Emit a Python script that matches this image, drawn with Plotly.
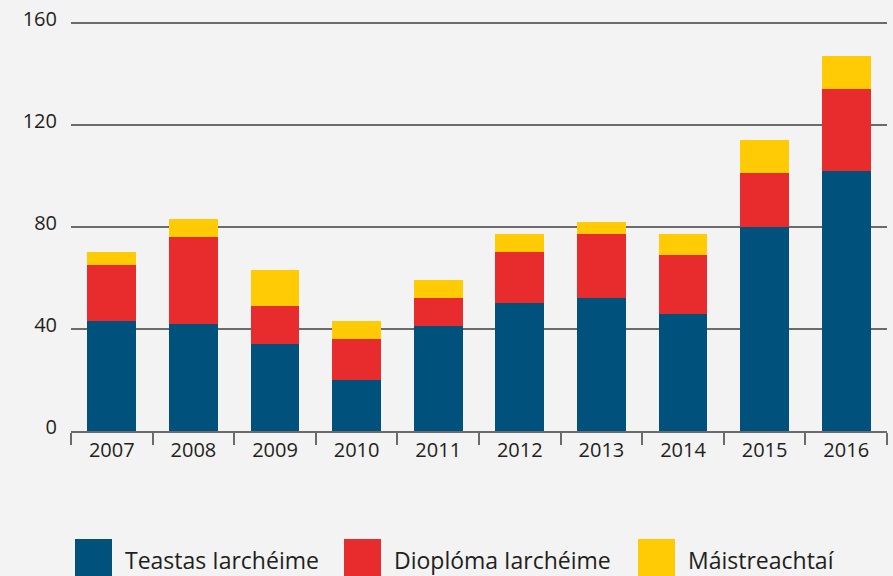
import plotly.graph_objects as go

years = ["2007", "2008", "2009", "2010", "2011", "2012", "2013", "2014", "2015", "2016"]
teastas = [43, 42, 34, 20, 41, 50, 52, 46, 80, 102]
dioploma = [22, 34, 15, 16, 11, 20, 25, 23, 21, 32]
maistreachtai = [5, 7, 14, 7, 7, 7, 5, 8, 13, 13]
series_names = ["Teastas Iarchéime", "Dioplóma Iarchéime", "Máistreachtaí"]
colors = ["#00527c", "#e82c2e", "#ffcb05"]
y_ticks = [0, 40, 80, 120, 160]

W, H = 893, 576
ML, MR, MT, MB = 71, 6, 20, 145
FONT = "Open Sans"
TXT = "#231f20"
GRID = "#6b6b6b"

fig = go.Figure()
for name, vals, col in zip(series_names, [teastas, dioploma, maistreachtai], colors):
    fig.add_trace(go.Bar(x=years, y=vals, name=name, marker=dict(color=col, line=dict(width=0)),
                         showlegend=False))

# custom legend (large square swatches)
plot_h = H - MT - MB
plot_w = W - ML - MR
def px_to_paper_x(px):
    return (px - ML) / plot_w
def px_to_paper_y(py):
    return (H - MB - py) / plot_h

legend_x = [75, 344, 638]
shapes = []
annotations = []
for name, col, lx in zip(series_names, colors, legend_x):
    shapes.append(dict(type="rect", xref="paper", yref="paper",
                       x0=px_to_paper_x(lx), x1=px_to_paper_x(lx + 37),
                       y0=px_to_paper_y(582), y1=px_to_paper_y(539),
                       fillcolor=col, line=dict(width=0), layer="above"))
    annotations.append(dict(xref="paper", yref="paper", x=px_to_paper_x(lx + 48),
                            y=px_to_paper_y(560), text=name, showarrow=False,
                            xanchor="left", yanchor="middle",
                            font=dict(family=FONT, size=23, color=TXT)))

fig.update_layout(
    barmode="stack",
    bargap=0.4,
    width=W, height=H,
    margin=dict(l=ML, r=MR, t=MT, b=MB),
    paper_bgcolor="#f2f3f2",
    plot_bgcolor="#f2f3f2",
    font=dict(family=FONT, size=20, color=TXT),
    shapes=shapes,
    annotations=annotations,
    xaxis=dict(
        type="category",
        showgrid=False,
        showline=True, linecolor=GRID, linewidth=2,
        ticks="outside", tickson="boundaries", ticklen=12, tickwidth=2, tickcolor=GRID,
        tickfont=dict(family=FONT, size=20, color=TXT),
        zeroline=False,
    ),
    yaxis=dict(
        range=[0, 161],
        tickvals=y_ticks,
        showgrid=True, gridcolor=GRID, gridwidth=1.5,
        showline=False, zeroline=False,
        ticks="", ticklabelstandoff=13, ticklabelshift=-4,
        tickfont=dict(family=FONT, size=20, color=TXT),
    ),
)

fig.write_html("out.html", config={"displayModeBar": False},
               post_script="document.body.style.margin='0';document.body.style.overflow='hidden';")
